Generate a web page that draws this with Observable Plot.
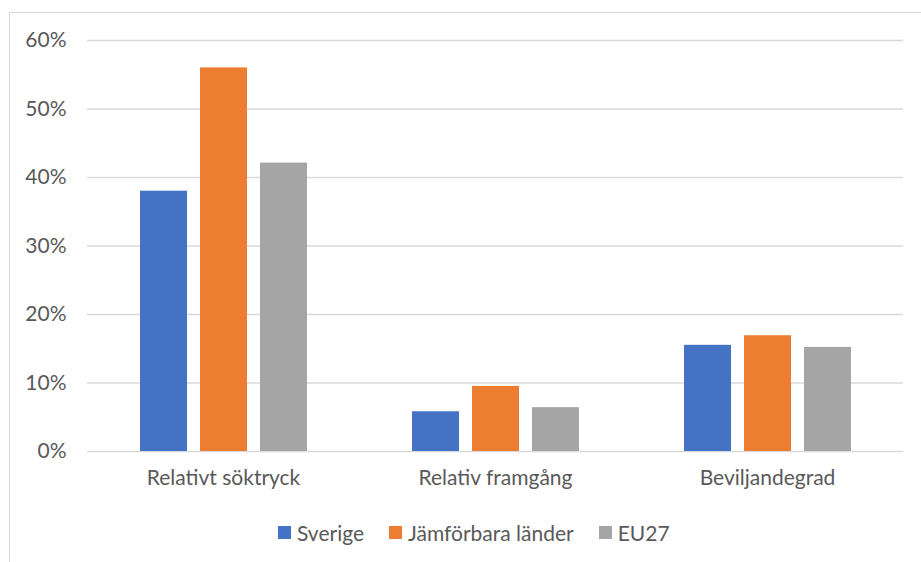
<!DOCTYPE html>
<html>
<head>
<meta charset="utf-8">
<script src="https://cdn.jsdelivr.net/npm/d3@7"></script>
<script src="https://cdn.jsdelivr.net/npm/@observablehq/plot@0.6"></script>
<style>
  html, body { margin: 0; padding: 0; background: #fff; width: 921px; height: 562px; overflow: hidden; }
  body { position: relative; font-family: Lato, "Open Sans", sans-serif; }
  #frame { position: absolute; left: 9px; top: 12px; width: 1000px; height: 1000px; border-left: 1.5px solid #d9d9d9; border-top: 1.5px solid #d9d9d9; box-sizing: border-box; }
  #chart { position: absolute; left: 0; top: 0; }
  #legend { position: absolute; left: 278px; top: 520px; display: flex; gap: 25px; font-size: 21px; color: #595959; align-items: center; }
  #legend .item { display: flex; align-items: center; gap: 6px; }
  #legend .sw { width: 13px; height: 13px; display: inline-block; }
</style>
</head>
<body>
<div id="frame"></div>
<div id="chart"></div>
<div id="legend"></div>
<script>
const categories = ["Relativt söktryck", "Relativ framgång", "Beviljandegrad"];
const seriesNames = ["Sverige", "Jämförbara länder", "EU27"];
const sverige = [0.38, 0.058, 0.155];
const jamforbara = [0.56, 0.095, 0.169];
const eu27 = [0.421, 0.064, 0.152];
const colors = ["#4472C4", "#ED7D31", "#A5A5A5"];
const yTicks = [0, 0.1, 0.2, 0.3, 0.4, 0.5, 0.6];

const seriesValues = [sverige, jamforbara, eu27];
const data = [];
categories.forEach((c, i) => {
  seriesNames.forEach((s, j) => {
    data.push({group: c, series: s, value: seriesValues[j][i]});
  });
});

const chart = Plot.plot({
  width: 921,
  height: 510,
  marginLeft: 86,
  marginRight: 18,
  marginTop: 40,
  marginBottom: 59,
  style: {fontFamily: "Lato, 'Open Sans', sans-serif", fontSize: "21px", color: "#595959", background: "transparent"},
  fx: {domain: categories, padding: 0, label: null, axis: "bottom", tickSize: 0, tickPadding: 19},
  x: {domain: seriesNames, axis: null, paddingInner: 0.22, paddingOuter: 0.86},
  y: {domain: [0, 0.6], axis: null},
  color: {domain: seriesNames, range: colors},
  marks: [
    Plot.ruleY(yTicks, {stroke: "#d9d9d9", strokeWidth: 1.5}),
    Plot.barY(data, {fx: "group", x: "series", y: "value", fill: "series"}),
    Plot.axisY({ticks: yTicks, tickFormat: d3.format(".0%"), tickSize: 0, tickPadding: 21, label: null, fontSize: 21, anchor: "left"})
  ]
});
document.getElementById("chart").appendChild(chart);

const legend = document.getElementById("legend");
seriesNames.forEach((s, i) => {
  const item = document.createElement("div");
  item.className = "item";
  const sw = document.createElement("span");
  sw.className = "sw";
  sw.style.background = colors[i];
  const t = document.createElement("span");
  t.textContent = s;
  item.appendChild(sw);
  item.appendChild(t);
  legend.appendChild(item);
});
</script>
</body>
</html>
